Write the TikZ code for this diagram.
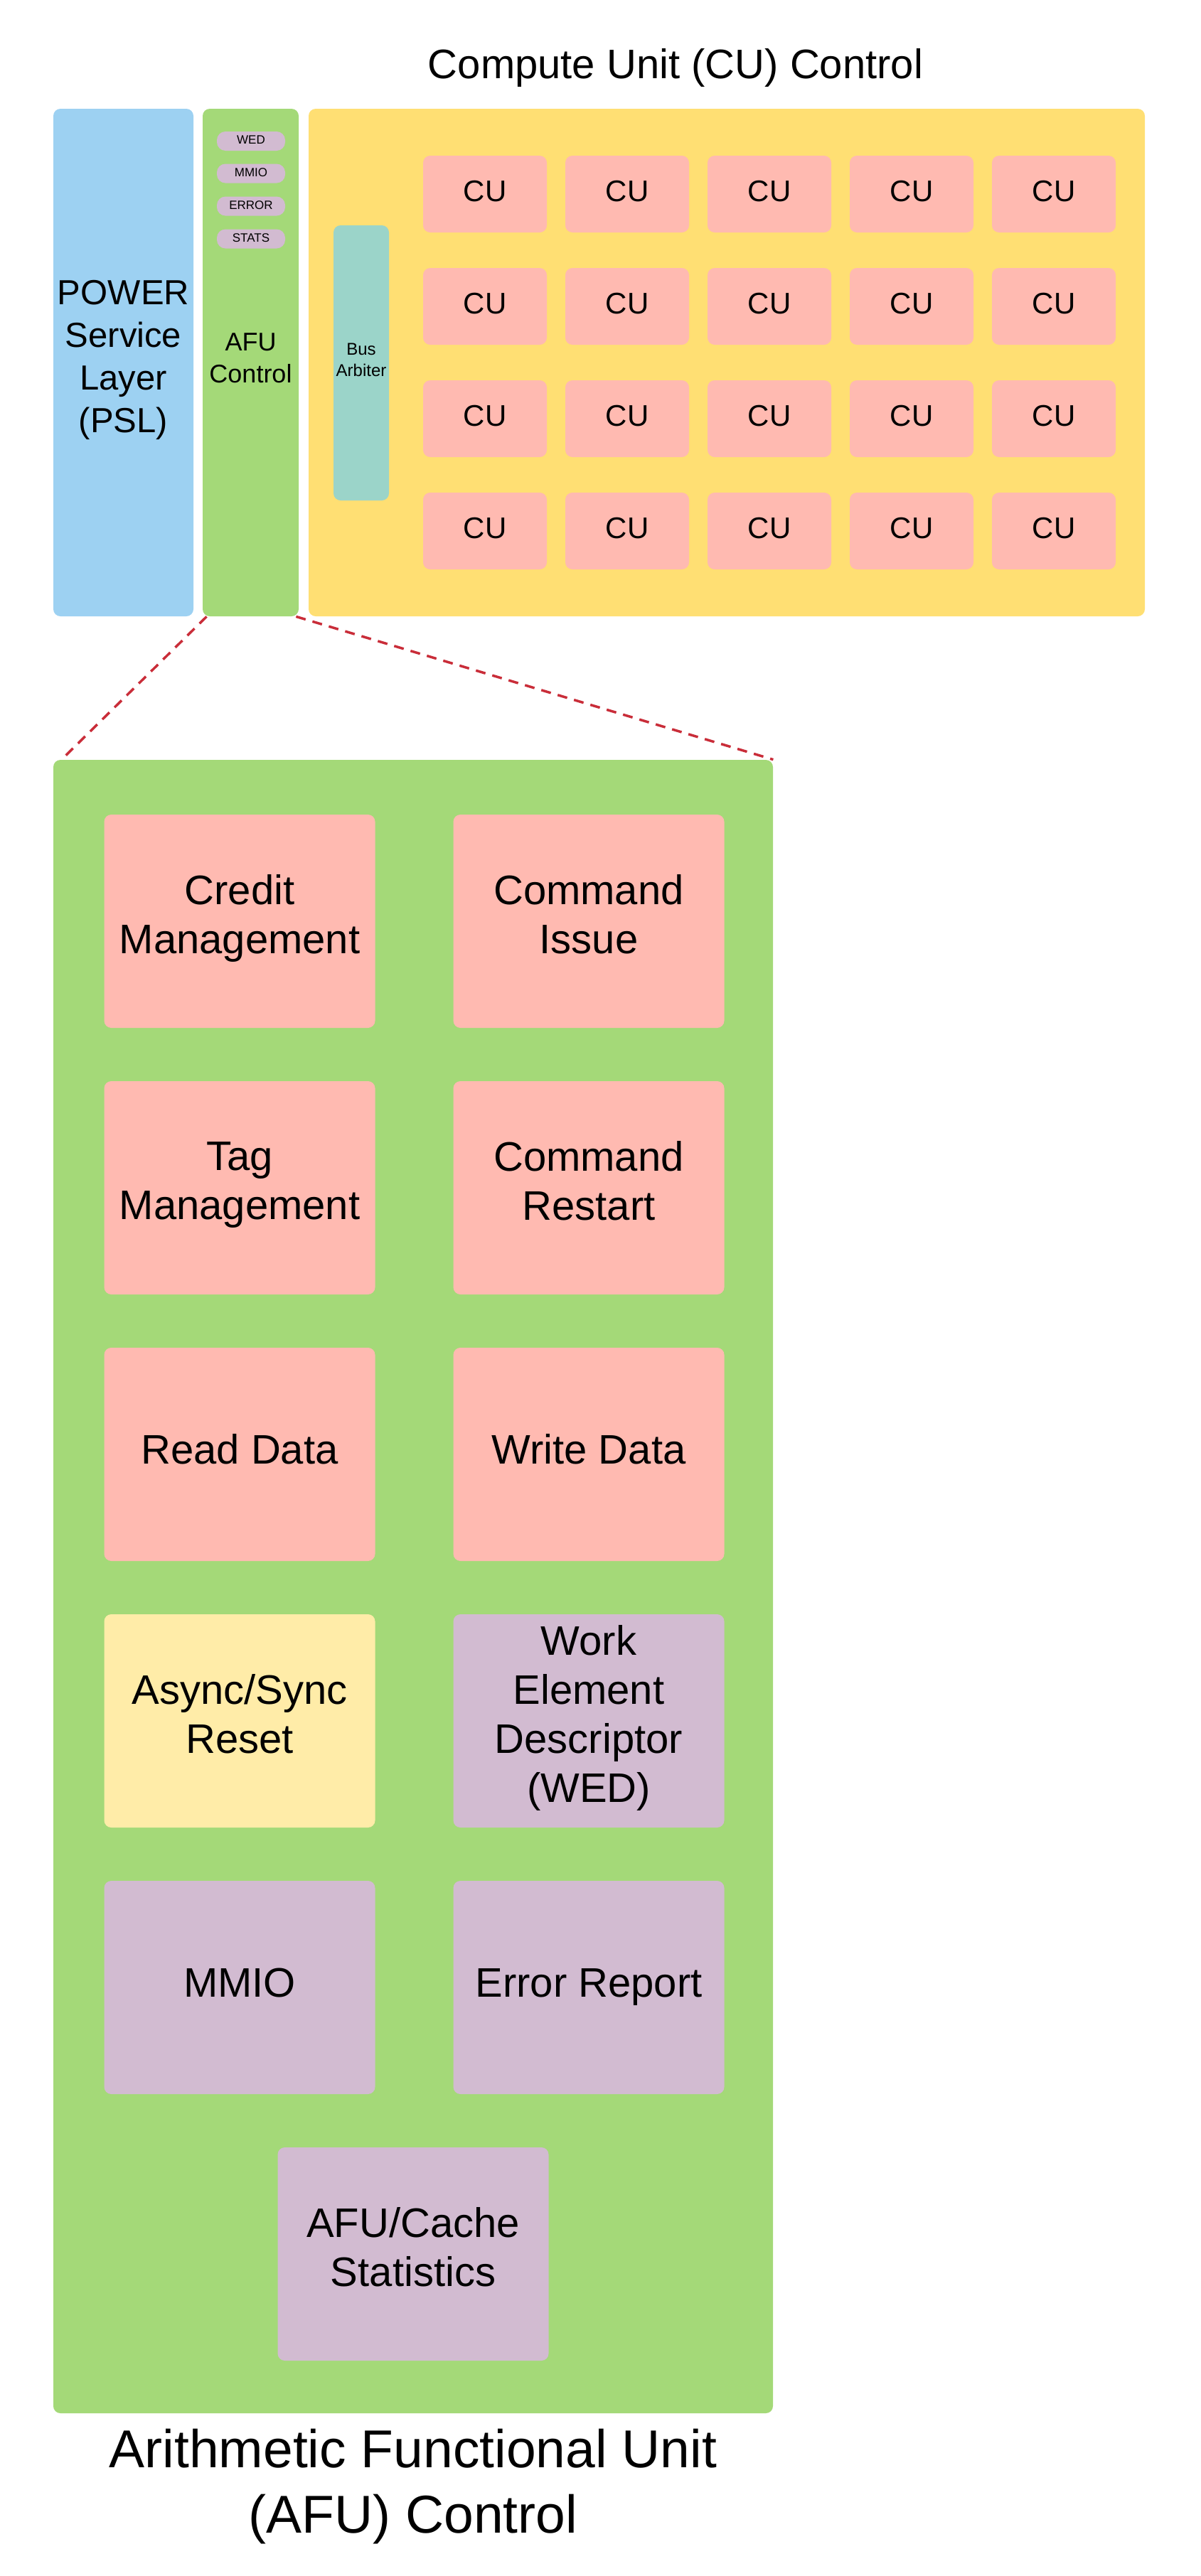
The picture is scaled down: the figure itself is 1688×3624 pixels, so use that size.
\documentclass[tikz,border=0pt]{standalone}
\usepackage{fontspec}
\setmainfont{Liberation Sans}

\definecolor{pslblue}{RGB}{157,209,242}
\definecolor{afugreen}{RGB}{164,217,120}
\definecolor{cuyellow}{RGB}{255,223,115}
\definecolor{unitpink}{RGB}{255,186,177}
\definecolor{regpurple}{RGB}{210,187,209}
\definecolor{arbteal}{RGB}{155,212,201}
\definecolor{resetyellow}{RGB}{255,236,168}
\definecolor{zoomred}{RGB}{201,45,57}

\tikzset{
  blk/.style={fill=#1, rounded corners=5pt, inner sep=0pt, align=center,
    execute at begin node=\strut, execute at end node=\strut},
  cubox/.style={blk=unitpink, minimum width=87pt, minimum height=54pt, font=\fontsize{21}{25}\selectfont},
  pill/.style={blk=regpurple, rounded corners=6pt, minimum width=48pt, minimum height=13.5pt, font=\fontsize{8.5}{10}\selectfont},
  unitbox/.style={blk=#1, minimum width=190.5pt, minimum height=150pt, font=\fontsize{29}{34.5}\selectfont},
  zoomline/.style={draw=zoomred, line width=1.75pt, dash pattern=on 7pt off 5pt}
}

\begin{document}
\begin{tikzpicture}[x=0.5pt,y=-0.5pt]
\useasboundingbox (0,0) rectangle (1688,3624);
% top row: PSL, AFU control strip, CU control
\node[blk=pslblue, minimum width=98.5pt, minimum height=357pt, font=\fontsize{24.5}{30}\selectfont] (psl) at (173.5,510) {POWER\\Service\\Layer\\(PSL)};
\node[blk=afugreen, minimum width=67.5pt, minimum height=357pt, font=\fontsize{18}{22.5}\selectfont] (afuctl) at (352.5,510) {AFU\\Control};
\node[blk=cuyellow, minimum width=588pt, minimum height=357pt] (cuctl) at (1022,510) {};
\node[anchor=base, font=\fontsize{29}{34}\selectfont] (cutitle) at (950,110) {Compute Unit (CU) Control};
\node[pill] (wed) at (353,198.5) {WED};
\node[pill] (mmio) at (353,244) {MMIO};
\node[pill] (error) at (353,290) {ERROR};
\node[pill] (stats) at (353,336) {STATS};
\node[blk=arbteal, minimum width=39pt, minimum height=193.5pt, font=\fontsize{12}{15}\selectfont] (arbiter) at (508,510.5) {Bus\\Arbiter};
% CU grid
\node[cubox] (cu11) at (682,273) {CU};
\node[cubox] (cu12) at (882,273) {CU};
\node[cubox] (cu13) at (1082,273) {CU};
\node[cubox] (cu14) at (1282,273) {CU};
\node[cubox] (cu15) at (1482,273) {CU};
\node[cubox] (cu21) at (682,431) {CU};
\node[cubox] (cu22) at (882,431) {CU};
\node[cubox] (cu23) at (1082,431) {CU};
\node[cubox] (cu24) at (1282,431) {CU};
\node[cubox] (cu25) at (1482,431) {CU};
\node[cubox] (cu31) at (682,589) {CU};
\node[cubox] (cu32) at (882,589) {CU};
\node[cubox] (cu33) at (1082,589) {CU};
\node[cubox] (cu34) at (1282,589) {CU};
\node[cubox] (cu35) at (1482,589) {CU};
\node[cubox] (cu41) at (682,747) {CU};
\node[cubox] (cu42) at (882,747) {CU};
\node[cubox] (cu43) at (1082,747) {CU};
\node[cubox] (cu44) at (1282,747) {CU};
\node[cubox] (cu45) at (1482,747) {CU};
% AFU control, zoomed
\node[blk=afugreen, minimum width=506pt, minimum height=1163pt] (afu) at (581,2232) {};
\node[unitbox=unitpink] (credit) at (337,1296) {Credit\\Management};
\node[unitbox=unitpink] (cmdissue) at (828,1296) {Command\\Issue};
\node[unitbox=unitpink] (tag) at (337,1671) {Tag\\Management};
\node[unitbox=unitpink] (cmdrestart) at (828,1671) {Command\\Restart};
\node[unitbox=unitpink] (readdata) at (337,2046) {Read Data};
\node[unitbox=unitpink] (writedata) at (828,2046) {Write Data};
\node[unitbox=resetyellow] (reset) at (337,2421) {Async/Sync\\Reset};
\node[unitbox=regpurple] (wedunit) at (828,2421) {Work\\Element\\Descriptor\\(WED)};
\node[unitbox=regpurple] (mmiounit) at (337,2796) {MMIO};
\node[unitbox=regpurple] (errreport) at (828,2796) {Error Report};
\node[unitbox=regpurple] (cachestats) at (581,3171) {AFU/Cache\\Statistics};
\node[align=center, inner sep=0pt, font=\fontsize{37.5}{46}\selectfont] (afutitle) at (581,3498) {Arithmetic Functional Unit\\(AFU) Control};
% zoom lines
\draw[zoomline] ([xshift=3pt]afuctl.south west) -- ([xshift=6pt]afu.north west);
\draw[zoomline] ([xshift=-2pt]afuctl.south east) -- (afu.north east);
\end{tikzpicture}
\end{document}
